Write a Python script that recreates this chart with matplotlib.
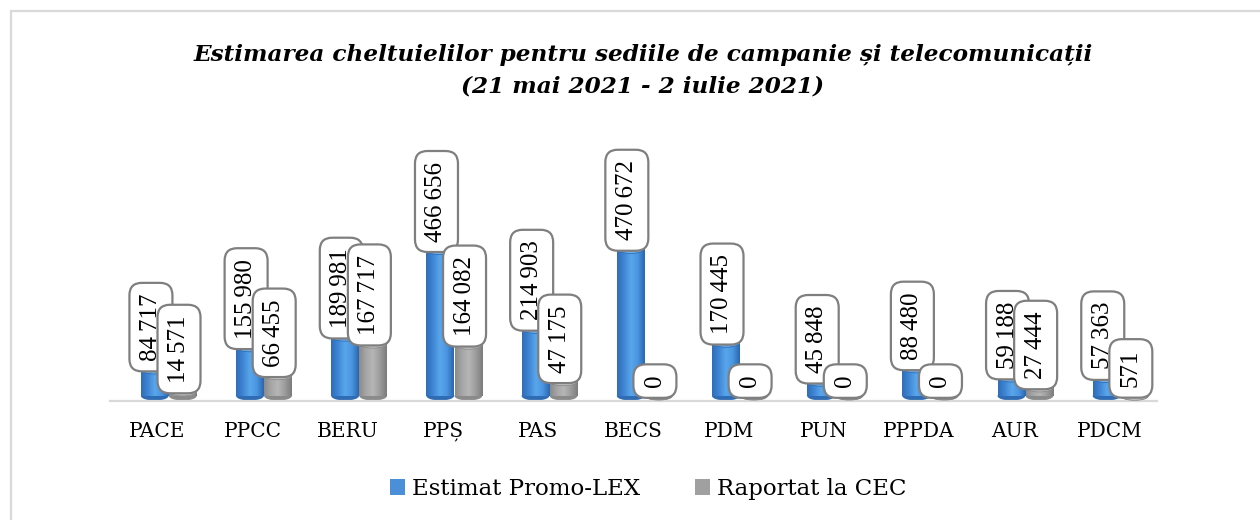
import numpy as np
import matplotlib
matplotlib.use("Agg")
import matplotlib.pyplot as plt
from matplotlib.patches import Ellipse, Rectangle, Patch
from matplotlib.colors import LinearSegmentedColormap

# data
parties = ["PACE", "PPCC", "BERU", "PPȘ", "PAS", "BECS", "PDM", "PUN", "PPPDA", "AUR", "PDCM"]
estimat = [84717, 155980, 189981, 466656, 214903, 470672, 170445, 45848, 88480, 59188, 57363]
raportat = [14571, 66455, 167717, 164082, 47175, 0, 0, 0, 0, 27444, 571]
series_names = ["Estimat Promo-LEX", "Raportat la CEC"]

W, H = 1260, 520
fig = plt.figure(figsize=(W / 100, H / 100), dpi=100)

# light frame around the chart (right/bottom edges run off the picture)
fig.patches.append(Rectangle((11 / W, -0.2), 1.2, 1.2 - 11 / H, transform=fig.transFigure,
                             fill=False, ec="#d9d9d9", lw=1.6, zorder=0))

ax = fig.add_axes([110 / W, 119 / H, 1047 / W, 266 / H])
px = 3200.0          # data units per pixel in y
ymin = -5 * px
ax.set_xlim(-0.5, len(parties) - 0.5)
ax.set_ylim(ymin, ymin + 266 * px)

blue_cmap = LinearSegmentedColormap.from_list("b", ["#2f6dba", "#3f86d4", "#5aa6ec", "#4a95e0", "#2c66b0"])
gray_cmap = LinearSegmentedColormap.from_list("g", ["#8a8a8a", "#a6a6a6", "#b6b6b6", "#9c9c9c", "#7c7c7c"])
grad = np.linspace(0, 1, 64).reshape(1, -1)

bw = 0.29
ell_h = 9 * px
x = np.arange(len(parties))
offsets = [-0.03, 0.265]
styles = [
    (blue_cmap, "#6fb0ee", "#2f6cb3"),
    (gray_cmap, "#c4c4c4", "#8a8a8a"),
]


def cylinder(xc, v, cmap, topc, botc):
    # bottom cap
    ax.add_patch(Ellipse((xc, 0), bw, ell_h, fc=botc, ec="none", zorder=2))
    if v > 0:
        rect = Rectangle((xc - bw / 2, 0), bw, v, fc="none", ec="none")
        ax.add_patch(rect)
        im = ax.imshow(grad, cmap=cmap, aspect="auto", extent=(xc - bw / 2, xc + bw / 2, 0, v),
                       zorder=3, interpolation="bilinear")
        im.set_clip_path(rect)
        ax.add_patch(Ellipse((xc, v), bw, ell_h, fc=topc, ec=botc, lw=0.6, zorder=4))
    else:
        ax.add_patch(Ellipse((xc, 0), bw, ell_h, fc=botc, ec="none", zorder=4))


def fmt(v):
    return f"{v:,}".replace(",", "\u2009")


for k, vals in enumerate([estimat, raportat]):
    cmap, topc, botc = styles[k]
    for i, v in enumerate(vals):
        xc = x[i] + offsets[k]
        cylinder(xc, v, cmap, topc, botc)
        ax.annotate(fmt(v), (xc - 0.04, v + ell_h / 2), xytext=(0, 3), textcoords="offset points",
                    rotation=90, ha="center", va="bottom", fontsize=18, family="Liberation Serif",
                    color="black", zorder=6 + k,
                    bbox=dict(boxstyle="round,pad=0.42,rounding_size=0.5", fc="white",
                              ec="#7f7f7f", lw=1.6))

ax.set_xticks(x)
ax.set_xticklabels(parties, family="DejaVu Serif", fontsize=14.5)
ax.tick_params(axis="x", length=0, pad=15)
ax.set_yticks([])
for s in ["top", "right", "left"]:
    ax.spines[s].set_visible(False)
ax.spines["bottom"].set_color("#d9d9d9")
ax.spines["bottom"].set_linewidth(1.6)
ax.patch.set_alpha(0)

title_kw = dict(ha="center", va="center", fontsize=16.7, family="DejaVu Serif", style="italic", weight="bold")
fig.text(643 / W, 1 - 55 / H, "Estimarea cheltuielilor pentru sediile de campanie și telecomunicații", **title_kw)
fig.text(643 / W, 1 - 87 / H, "(21 mai 2021 - 2 iulie 2021)", **title_kw)

handles = [Patch(fc="#4a8fd8", ec="none"), Patch(fc="#a0a0a0", ec="none")]
fig.legend(handles, series_names, loc="center", bbox_to_anchor=(648 / W, 1 - 489 / H), ncol=2,
           frameon=False, handlelength=0.65, handleheight=0.65, handletextpad=0.3, columnspacing=2.4,
           prop=dict(family="DejaVu Serif", size=16.5))

fig.savefig("out.png", dpi=100)
